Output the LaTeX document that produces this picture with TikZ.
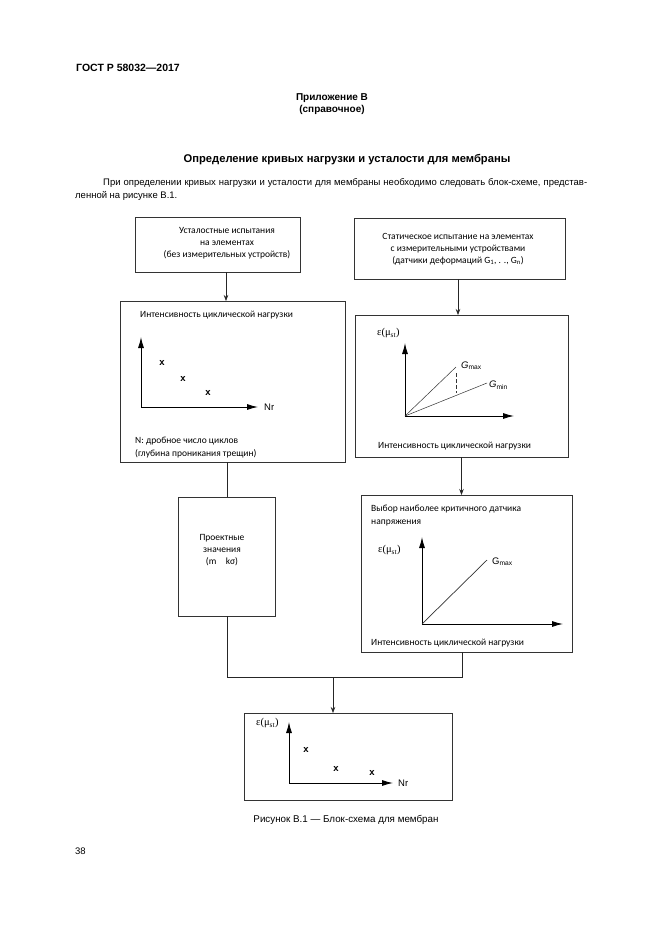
\documentclass[tikz,border=0pt]{standalone}
\usepackage{fontspec}
\setmainfont{Liberation Sans}
\newfontfamily\boxfont{Carlito}
\newfontfamily\serfont{Liberation Serif}
\usetikzlibrary{arrows.meta}
\begin{document}
\begin{tikzpicture}[x=1pt,y=-1pt,
  frame/.style={draw=black!80, line width=0.8pt, inner sep=0pt, outer sep=0pt},
  conn/.style={draw=black!85, line width=0.7pt},
  arr/.style={conn, -{Stealth[length=6pt,width=4.5pt]}},
  axis/.style={draw=black, line width=0.9pt, -{Latex[length=11pt,width=6pt]}},
  gline/.style={draw=black!80, line width=0.5pt},
  btxt/.style={font=\boxfont\fontsize{9.5}{11.8}\selectfont, inner sep=0pt, align=center},
  ltxt/.style={font=\boxfont\fontsize{9.5}{12.5}\selectfont, inner sep=0pt, anchor=west},
  xmark/.style={font=\fontsize{9.5}{9.5}\selectfont\bfseries, inner sep=0pt},
  eps/.style={font=\serfont\fontsize{10.5}{10.5}\selectfont, inner sep=0pt, anchor=west},
  glab/.style={font=\fontsize{9.5}{10}\selectfont, inner sep=0pt, anchor=west},
  ptxt/.style={font=\fontsize{9.5}{11}\selectfont, inner sep=0pt, anchor=west}
]
\useasboundingbox[fill=white] (0,0) rectangle (661,935);

% page texts
\node[font=\fontsize{10.5}{12}\selectfont\bfseries, inner sep=0pt, anchor=west] (hdr) at (76,68) {ГОСТ Р 58032—2017};
\node[font=\fontsize{10}{12.5}\selectfont\bfseries, inner sep=0pt, align=center] (app) at (332,104) {Приложение В\\(справочное)};
\node[font=\fontsize{11.2}{13}\selectfont\bfseries, inner sep=0pt] (ttl) at (347,160) {Определение кривых нагрузки и усталости для мембраны};
\node[ptxt] (par1) at (103,183) {\makebox[484pt][s]{При определении кривых нагрузки и усталости для мембраны необходимо следовать блок-схеме, представ-}};
\node[ptxt] (par2) at (75,196) {ленной на рисунке В.1.};
\node[font=\fontsize{9.8}{12}\selectfont, inner sep=0pt] (cap) at (346,820) {Рисунок В.1 — Блок-схема для мембран};
\node[ptxt] (pg) at (75,851) {38};

% boxes
\node[frame, minimum width=165pt, minimum height=55pt] (tl) at (217.5,244.5) {};
\node[btxt] (tltx) at (227,243.5) {Усталостные испытания\\на элементах\\(без измерительных устройств)};

\node[frame, minimum width=211pt, minimum height=61pt] (tr) at (459.5,248.5) {};
\node[btxt] (trtx) at (458,249) {Статическое испытание на элементах\\с измерительными устройствами\\(датчики деформаций G\textsubscript{1}, . ., G\textsubscript{n})};

\node[frame, minimum width=225pt, minimum height=161pt] (ml) at (232.5,381.5) {};
\node[frame, minimum width=213pt, minimum height=142pt] (mr) at (461.5,386) {};
\node[frame, minimum width=97pt, minimum height=119pt] (pb) at (227,556.5) {};
\node[btxt] (pbtx) at (222,550) {Проектные\\значения\\(m\quad kσ)};
\node[frame, minimum width=211pt, minimum height=157pt] (vb) at (466.5,573.5) {};
\node[frame, minimum width=208pt, minimum height=87pt] (bb) at (348,756.5) {};

% connectors
\draw[arr] ([xshift=8.5pt]tl.south) -- ([xshift=8.5pt]tl.south |- ml.north);
\draw[arr] ([xshift=-1.5pt]tr.south) -- ([xshift=-1.5pt]tr.south |- mr.north);
\draw[conn] (pb.north) -- (pb.north |- ml.south);
\draw[arr] (mr.south) -- (mr.south |- vb.north);
\draw[conn] (pb.south) -- ++(0,61) coordinate (jl) -| ([xshift=-4.5pt]vb.south);
\draw[arr] ([xshift=-15pt]bb.north |- jl) -- ([xshift=-15pt]bb.north);

% middle-left content
\node[ltxt] (mlt) at (140,315) {Интенсивность циклической нагрузки};
\draw[axis] (141,407) -- (141,337);
\draw[axis] (141,407) -- (258,407);
\node[glab] (nr1) at (264,407) {Nr};
\node[xmark] (x1) at (162,363) {x};
\node[xmark] (x2) at (183,379) {x};
\node[xmark] (x3) at (208,393) {x};
\node[ltxt] (mln1) at (135,441) {N: дробное число циклов};
\node[ltxt] (mln2) at (135,454) {(глубина проникания трещин)};

% middle-right content
\node[eps] (e1) at (377,333) {ε(μ\textsubscript{st})};
\draw[axis] (405,416) -- (405,343);
\draw[axis] (405,416) -- (514,416);
\draw[gline] (405,416) -- (456,367);
\draw[gline] (405,416) -- (487,383);
\draw[gline, dash pattern=on 4pt off 2pt] (456,373) -- (456,393);
\node[glab] (gmax1) at (461,366) {\textit{G}\textsubscript{max}};
\node[glab] (gmin1) at (489,385) {\textit{G}\textsubscript{min}};
\node[ltxt] (mrt) at (378,446) {Интенсивность циклической нагрузки};

% select box content
\node[ltxt, align=left] (vbt) at (371,515.5) {Выбор наиболее критичного датчика\\напряжения};
\node[eps] (e2) at (378,550) {ε(μ\textsubscript{st})};
\draw[axis] (422,624) -- (422,537);
\draw[axis] (422,624) -- (563,624);
\draw[gline, line width=0.7pt] (422,624) -- (487,560);
\node[glab] (gmax2) at (492,562) {G\textsubscript{max}};
\node[ltxt] (vbb) at (371,643) {Интенсивность циклической нагрузки};

% bottom box content
\node[eps] (e3) at (256,723) {ε(μ\textsubscript{st})};
\draw[axis] (289,783) -- (289,722);
\draw[axis] (289,783) -- (393,783);
\node[glab] (nr2) at (398,783) {Nr};
\node[xmark] (x4) at (306,750) {x};
\node[xmark] (x5) at (336,769) {x};
\node[xmark] (x6) at (372,773) {x};
\end{tikzpicture}
\end{document}
